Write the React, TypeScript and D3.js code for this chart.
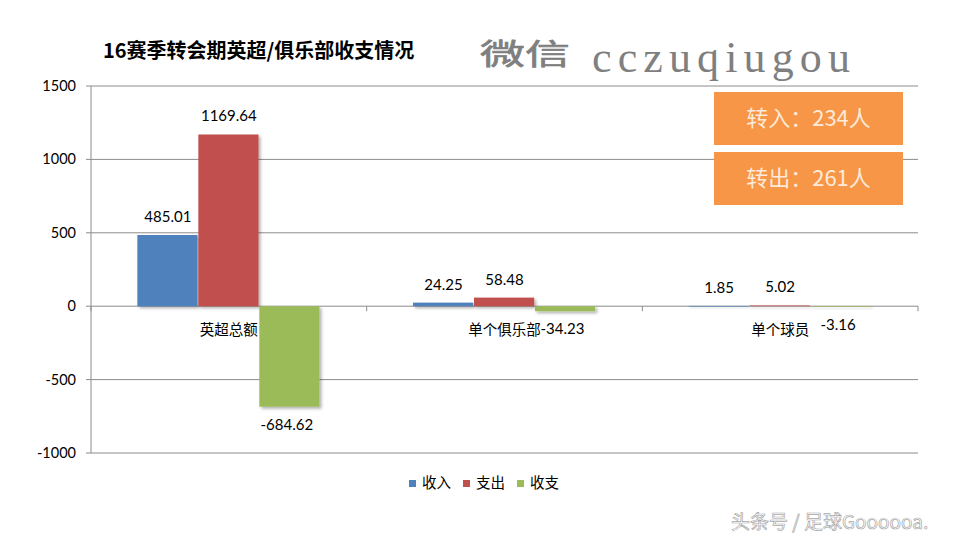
import React from "react";
import * as d3 from "d3";

const categories = ["英超总额", "单个俱乐部", "单个球员"];
const seriesNames = ["收入", "支出", "收支"];
const income = [485.01, 24.25, 1.85];
const expense = [1169.64, 58.48, 5.02];
const balance = [-684.62, -34.23, -3.16];
const yTicks = [1500, 1000, 500, 0, -500, -1000];
const colors = ["#4F81BD", "#C0504D", "#9BBB59"];
const infoBoxes = ["转入：234人", "转出：261人"];

const W = 960;
const H = 540;
const CJK = "'Noto Sans CJK SC', 'Noto Sans', sans-serif";
const NUM = "Lato, 'Noto Sans', sans-serif";

export default function App() {
  const left = 91, right = 918, top = 86, bottom = 453;
  const y = d3.scaleLinear().domain([-1000, 1500]).range([bottom, top]);
  const x0 = d3.scaleBand<string>().domain(categories).range([left, right]).padding(0);
  const x1 = d3.scaleBand<string>().domain(seriesNames).range([0, x0.bandwidth()]).paddingInner(0).paddingOuter(0.76);
  const seriesValues = [income, expense, balance];
  const zero = y(0);

  const bars: any[] = [];
  categories.forEach((c, ci) => {
    seriesNames.forEach((s, si) => {
      const v = seriesValues[si][ci];
      const bx = (x0(c) as number) + (x1(s) as number);
      bars.push({ c, s, v, x: bx, w: x1.bandwidth(), color: colors[si] });
    });
  });

  return (
    <svg width={W} height={H} style={{ position: "absolute", left: 0, top: 0, background: "#fff" }}>
      <defs>
        <filter id="sh" x="-20%" y="-20%" width="140%" height="140%">
          <feDropShadow dx="2" dy="2" stdDeviation="1.5" floodColor="#000" floodOpacity="0.3" />
        </filter>
        <filter id="sh2" x="-20%" y="-400%" width="140%" height="900%">
          <feDropShadow dx="2" dy="2" stdDeviation="1.5" floodColor="#000" floodOpacity="0.3" />
        </filter>
      </defs>
      <rect x={0} y={0} width={W} height={H} fill="#fff" />

      {/* title */}
      <text x={103} y={58} fontFamily={CJK} fontWeight={700} fontSize={20} fill="#000">
        16赛季转会期英超/俱乐部收支情况
      </text>
      {/* watermark */}
      <text x={480} y={65} fontFamily={CJK} fontWeight={400} fontSize={29} fill="#7f7f7f"
        stroke="#7f7f7f" strokeWidth={0.6} textLength={90} lengthAdjust="spacingAndGlyphs">微信</text>
      <text x={592} y={72} fontFamily="'Liberation Serif', 'DejaVu Serif', serif" fontSize={44}
        fill="#7f7f7f" textLength={258} lengthAdjust="spacing">cczuqiugou</text>

      {/* grid lines */}
      {yTicks.map((t) => (
        <g key={t}>
          <line x1={left - 5} x2={right} y1={y(t)} y2={y(t)} stroke="#8c8c8c" strokeWidth={1} />
          <text x={76} y={y(t) + 5} textAnchor="end" fontFamily={NUM} fontSize={14.5} fill="#000">{t}</text>
        </g>
      ))}
      <line x1={left} x2={left} y1={top} y2={bottom} stroke="#8c8c8c" strokeWidth={1} />
      {/* category boundary ticks */}
      {[...categories.map((c) => x0(c) as number), right].map((px, i) => (
        <line key={i} x1={px} x2={px} y1={zero} y2={zero + 5} stroke="#8c8c8c" strokeWidth={1} />
      ))}

      {/* bars */}
      {bars.map((b, i) => {
        const y1 = Math.min(y(b.v), zero);
        const h = Math.max(Math.abs(y(b.v) - zero), 0.6);
        return (
          <rect key={i} x={b.x} y={y1} width={b.w - 0.8} height={h} fill={b.color}
            filter={h < 10 ? "url(#sh2)" : "url(#sh)"} />
        );
      })}

      {/* value labels */}
      {bars.map((b, i) => (
        <text key={"l" + i} x={b.x + b.w / 2 + (b.v < 0 ? -3 : 0)} y={b.v >= 0 ? y(b.v) - 13 : y(b.v) + 23}
          textAnchor="middle" fontFamily={NUM} fontSize={15} fill="#000">
          {b.v.toFixed(2)}
        </text>
      ))}

      {/* category labels */}
      {categories.map((c) => (
        <text key={c} x={(x0(c) as number) + x0.bandwidth() / 2} y={335} textAnchor="middle"
          fontFamily={CJK} fontSize={14.5} fill="#000">{c}</text>
      ))}

      {/* legend */}
      {seriesNames.map((s, i) => (
        <g key={s} transform={`translate(${409 + i * 54},0)`}>
          <rect x={0} y={480} width={7} height={7} fill={colors[i]} />
          <text x={13} y={488} fontFamily={CJK} fontSize={14.5} fill="#000">{s}</text>
        </g>
      ))}

      {/* info boxes */}
      {infoBoxes.map((t, i) => (
        <g key={t}>
          <rect x={714} y={92 + i * 60} width={189} height={53} fill="#F79646" />
          <text x={808.5} y={126 + i * 60} textAnchor="middle" fontFamily={CJK} fontSize={22} fill="#FDEADA">{t}</text>
        </g>
      ))}

      {/* footer watermark */}
      <text x={731} y={529} fontFamily={CJK} fontSize={19} fill="#fff" stroke="#a8a8a8" strokeWidth={0.7}>
        头条号 / 足球Goooooa.
      </text>
    </svg>
  );
}
